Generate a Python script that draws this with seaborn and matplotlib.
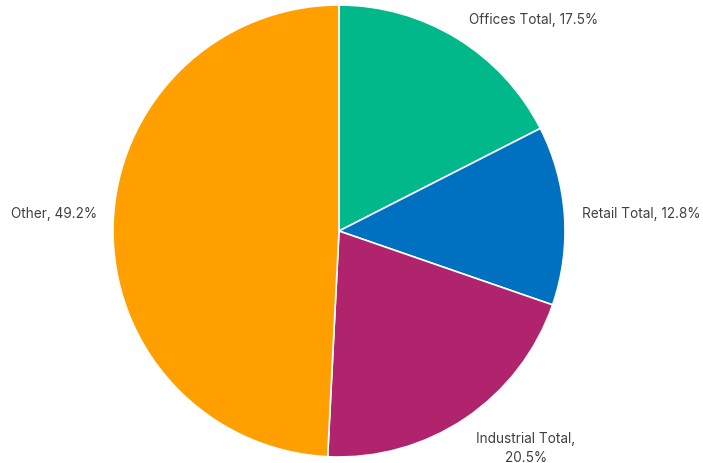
import matplotlib
matplotlib.use("Agg")
import matplotlib.pyplot as plt
import seaborn as sns

# Share of total by sector
categories = ["Offices Total", "Retail Total", "Industrial Total", "Other"]
shares = [17.5, 12.8, 20.5, 49.2]
colors = ["#00B88A", "#0070C0", "#B0246E", "#FFA000"]

sns.set_theme(style="white")
plt.rcParams["font.family"] = ["Inter", "DejaVu Sans"]

W, H = 703, 464
CX, CY, R = 339, H - 232, 226
fig = plt.figure(figsize=(W / 100, H / 100), dpi=100)
ax = fig.add_axes([0, 0, 1, 1])

labels = [f"{c}, {v}%" for c, v in zip(categories, shares)]
labels[2] = f"{categories[2]},\n{shares[2]}%"

wedges, texts = ax.pie(
    shares,
    labels=labels,
    colors=colors,
    startangle=90,
    counterclock=False,
    center=(CX, CY),
    radius=R,
    labeldistance=1.1,
    wedgeprops=dict(edgecolor="white", linewidth=1.2),
    textprops=dict(fontsize=9.8, color="#404040"),
    frame=True,
)
ax.axis("off")
ax.set_xlim(0, W)
ax.set_ylim(0, H)
ax.set_aspect("equal")

# labels left of the centre hang to the left of their anchor
for t in texts:
    x, y = t.get_position()
    t.set_horizontalalignment("left" if x > CX else "right")

# nudge labels so they sit clear of the wedges and inside the canvas
ret = texts[1]
x, y = ret.get_position()
ret.set_position((x - 5, y + 1))

ind = texts[2]
ind.set_multialignment("center")
ind.set_linespacing(1.45)
x, y = ind.get_position()
ind.set_position((x - 2, y - 10))

oth = texts[3]
x, y = oth.get_position()
oth.set_position((x + 7, y + 12))

fig.savefig("out.png", dpi=100)
